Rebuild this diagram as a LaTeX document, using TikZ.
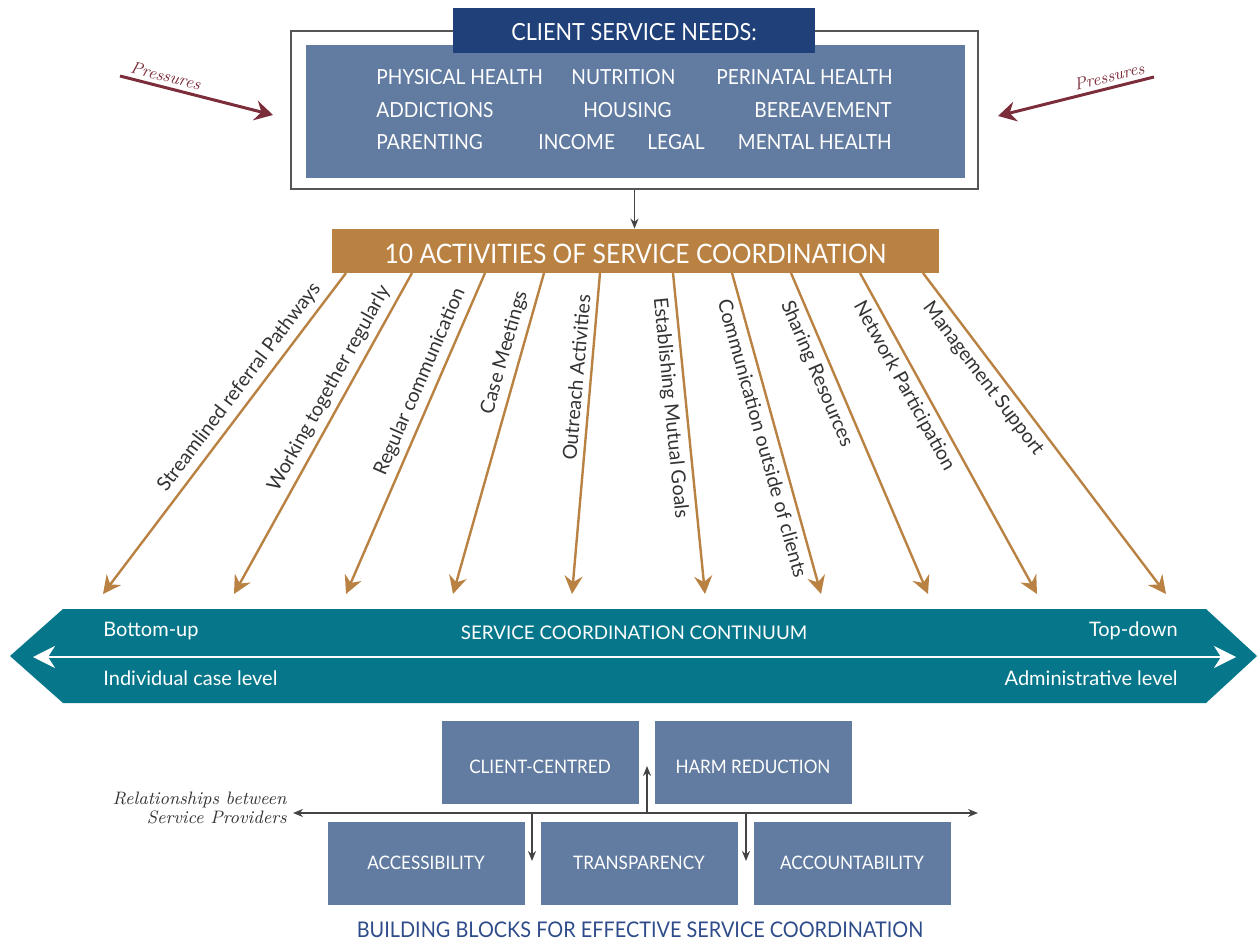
\documentclass[tikz,border=0pt]{standalone}
\usepackage{fontspec}
\usepackage{tikz}
\usetikzlibrary{arrows.meta}
\newfontfamily\avfont{Lato}
\newfontfamily\capfont[FakeStretch=0.92]{Lato}
\definecolor{needblue}{HTML}{617BA1}
\definecolor{titleblue}{HTML}{1F4079}
\definecolor{actorange}{HTML}{B98243}
\definecolor{bandteal}{HTML}{06778A}
\definecolor{pressred}{HTML}{7B2D3A}
\definecolor{linkgray}{HTML}{444444}
\definecolor{textgray}{HTML}{333333}
\definecolor{bordergray}{HTML}{555555}
\definecolor{footblue}{HTML}{2E4C8A}
\tikzstyle{outerbox} = [draw=bordergray, line width=0.8pt, fill=white]
\tikzstyle{needbox} = [fill=needblue]
\tikzstyle{titlebox} = [fill=titleblue, text=white, text height=10.5pt, text depth=0pt, font=\capfont\fontsize{11.8}{14}\selectfont]
\tikzstyle{need} = [text=white, inner sep=0pt, font=\capfont\fontsize{10.4}{12}\selectfont]
\tikzstyle{actbox} = [fill=actorange, text=white, text height=12.6pt, text depth=0pt, font=\capfont\fontsize{13.4}{16}\selectfont]
\tikzstyle{activity} = [draw=actorange, line width=1.2pt, -{Stealth[length=9pt, width=9pt, inset=3pt]}]
\tikzstyle{actlabel} = [sloped, inner sep=3pt, text=textgray, font=\avfont\fontsize{9.8}{11}\selectfont]
\tikzstyle{pressure} = [draw=pressred, line width=1.5pt, -{Stealth[length=9pt, width=10pt, inset=3pt]}]
\tikzstyle{presslabel} = [sloped, above=1pt, inner sep=1pt, text=pressred, font=\itshape\fontsize{8.5}{10}\selectfont]
\tikzstyle{band} = [fill=bandteal]
\tikzstyle{bandtext} = [text=white, inner sep=0pt, font=\avfont\fontsize{10}{12}\selectfont]
\tikzstyle{block} = [fill=needblue, minimum width=98.5pt, minimum height=41.5pt, text=white, font=\capfont\fontsize{9.3}{11}\selectfont]
\tikzstyle{link} = [draw=linkgray, line width=0.75pt, -{Stealth[length=5pt, width=4pt]}]

\begin{document}
\begin{tikzpicture}[x=0.5pt, y=-0.5pt]
    \useasboundingbox (0,0) rectangle (1257,941);
    % client service needs
    \node[outerbox, minimum width=343.5pt, minimum height=79pt] (outer) at (634.5,110) {};
    \node[needbox, minimum width=329.5pt, minimum height=66.5pt] (inner) at (635.5,111.5) {};
    \node[titlebox, minimum width=181pt, minimum height=22.5pt] (title) at (634,30.5) {CLIENT SERVICE NEEDS:};
    \node[need, anchor=west] (physical) at (376,77) {PHYSICAL HEALTH};
    \node[need, anchor=west] (nutrition) at (571,77) {NUTRITION};
    \node[need, anchor=east] (perinatal) at (893,77) {PERINATAL HEALTH};
    \node[need, anchor=west] (addictions) at (376,110) {ADDICTIONS};
    \node[need, anchor=east] (housing) at (672,110) {HOUSING};
    \node[need, anchor=east] (bereavement) at (892,110) {BEREAVEMENT};
    \node[need, anchor=west] (parenting) at (376,142) {PARENTING};
    \node[need, anchor=west] (income) at (538,142) {INCOME};
    \node[need, anchor=west] (legal) at (647,142) {LEGAL};
    \node[need, anchor=east] (mental) at (892,142) {MENTAL HEALTH};
    % pressures
    \coordinate (pl1) at (120,76);
    \coordinate (pl2) at (273,115);
    \coordinate (pr1) at (1154,77);
    \coordinate (pr2) at (998,116);
    \draw[pressure] (pl1) -- node[presslabel, pos=0.28] {Pressures} (pl2);
    \draw[pressure] (pr1) -- node[presslabel, pos=0.27] {Pressures} (pr2);
    % activities
    \node[actbox, minimum width=303.5pt, minimum height=22pt] (act) at (635.5,251) {10 ACTIVITIES OF SERVICE COORDINATION};
    \draw[link] (outer.south) -- (outer.south |- act.north);
    \coordinate (s1) at (346,273);  \coordinate (e1) at (103,594);
    \coordinate (s2) at (412,273);  \coordinate (e2) at (234,594);
    \coordinate (s3) at (485,273);  \coordinate (e3) at (346,594);
    \coordinate (s4) at (544,273);  \coordinate (e4) at (453,594);
    \coordinate (s5) at (600,273);  \coordinate (e5) at (572,594);
    \coordinate (s6) at (673,273);  \coordinate (e6) at (705,594);
    \coordinate (s7) at (732,273);  \coordinate (e7) at (821,594);
    \coordinate (s8) at (791,273);  \coordinate (e8) at (928,594);
    \coordinate (s9) at (860,273);  \coordinate (e9) at (1037,594);
    \coordinate (s10) at (923,273); \coordinate (e10) at (1166,594);
    \draw[activity] (s1) -- node[actlabel, anchor=south east, pos=0.05] {Streamlined referral Pathways} (e1);
    \draw[activity] (s2) -- node[actlabel, anchor=south east, pos=0.05] {Working together regularly} (e2);
    \draw[activity] (s3) -- node[actlabel, anchor=south east, pos=0.05] {Regular communication} (e3);
    \draw[activity] (s4) -- node[actlabel, anchor=south east, pos=0.05] {Case Meetings} (e4);
    \draw[activity] (s5) -- node[actlabel, anchor=south east, pos=0.05] {Outreach Activities} (e5);
    \draw[activity] (s6) -- node[actlabel, anchor=north west, pos=0.05] {Establishing Mutual Goals} (e6);
    \draw[activity] (s7) -- node[actlabel, anchor=north west, pos=0.05] {Communication outside of clients} (e7);
    \draw[activity] (s8) -- node[actlabel, anchor=north west, pos=0.05] {Sharing Resources} (e8);
    \draw[activity] (s9) -- node[actlabel, anchor=north west, pos=0.05] {Network Participation} (e9);
    \draw[activity] (s10) -- node[actlabel, anchor=north west, pos=0.05] {Management Support} (e10);
    % continuum
    \fill[band] (10,656) -- (63,609) -- (1206,609) -- (1257,656) -- (1206,703) -- (63,703) -- cycle;
    \coordinate (cl) at (33,657);
    \coordinate (cr) at (1236,657);
    \draw[draw=white, line width=1pt, {Stealth[length=11pt, width=11pt, inset=3.5pt]}-{Stealth[length=11pt, width=11pt, inset=3.5pt]}] (cl) -- (cr);
    \node[bandtext, anchor=west] (bottomup) at (103,631) {Bottom-up};
    \node[bandtext, anchor=west] (individual) at (103,678) {Individual case level};
    \node[bandtext, anchor=east] (topdown) at (1178,631) {Top-down};
    \node[bandtext, anchor=east] (administrative) at (1178,678) {Administrative level};
    \node[bandtext, font=\avfont\fontsize{9.4}{11}\selectfont] (continuum) at (634,633) {SERVICE COORDINATION CONTINUUM};
    % building blocks
    \node[block, text height=11.7pt, text depth=0pt] (clientcentred) at (540,762) {CLIENT-CENTRED};
    \node[block, text height=11.7pt, text depth=0pt] (harm) at (753,762) {HARM REDUCTION};
    \node[block] (accessibility) at (426,863) {ACCESSIBILITY};
    \node[block] (transparency) at (639,863) {TRANSPARENCY};
    \node[block] (accountability) at (852,863) {ACCOUNTABILITY};
    \coordinate (rl) at (293,813);
    \coordinate (rr) at (978,813);
    \coordinate (up) at (647,813);
    \coordinate (uptip) at (647,766);
    \coordinate (d1) at (532,813);
    \coordinate (d1tip) at (532,861);
    \coordinate (d2) at (746,813);
    \coordinate (d2tip) at (746,861);
    \draw[link, {Stealth[length=5pt, width=4pt]}-{Stealth[length=5pt, width=4pt]}] (rl) -- (rr);
    \draw[link] (up) -- (uptip);
    \draw[link] (d1) -- (d1tip);
    \draw[link] (d2) -- (d2tip);
    \node[anchor=east, align=right, inner sep=0pt, text=textgray, font=\itshape\fontsize{9}{9.5}\selectfont] (relations) at (287,808) {Relationships between\\Service Providers};
    \node[text=footblue, font=\capfont\fontsize{10.8}{13}\selectfont] (buildtitle) at (640,930) {BUILDING BLOCKS FOR EFFECTIVE SERVICE COORDINATION};
\end{tikzpicture}
\end{document}
